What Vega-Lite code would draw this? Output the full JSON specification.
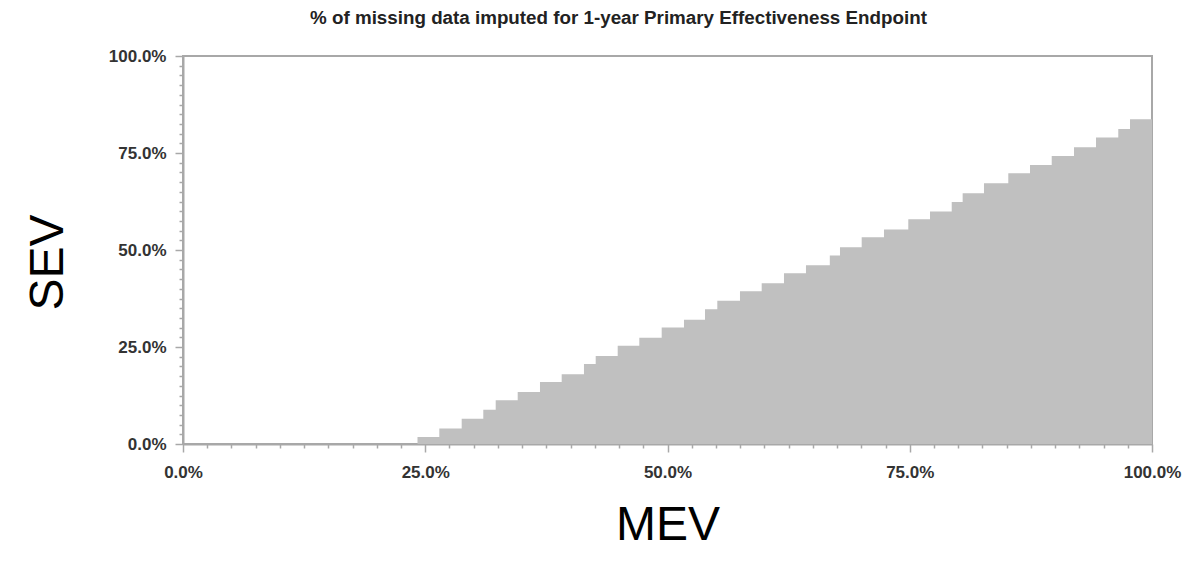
{
  "$schema": "https://vega.github.io/schema/vega-lite/v6.json",
  "width": 969,
  "height": 388,
  "autosize": {"type": "none"},
  "padding": {"left": 183, "top": 56, "right": 36, "bottom": 118},
  "background": "white",
  "title": {
    "text": "% of missing data imputed for 1-year Primary Effectiveness Endpoint",
    "font": "Liberation Sans",
    "fontSize": 18.8,
    "fontWeight": "bold",
    "color": "#222222",
    "anchor": "middle",
    "dx": -49,
    "offset": 19
  },
  "config": {
    "view": {"stroke": "#a8a8a8", "strokeWidth": 2},
    "axis": {
      "domainColor": "#a8a8a8",
      "domainWidth": 2,
      "tickColor": "#a8a8a8",
      "tickWidth": 1.5,
      "grid": false,
      "labelFont": "Liberation Sans",
      "labelFontSize": 17,
      "labelFontWeight": "bold",
      "labelColor": "#333333",
      "labelOverlap": false,
      "labelBound": false,
      "labelFlush": false
    }
  },
  "data": {
    "values": [
      {"MEV": 0, "SEV": 0},
      {"MEV": 24.2, "SEV": 1.8},
      {"MEV": 26.45, "SEV": 4.0},
      {"MEV": 28.76, "SEV": 6.5},
      {"MEV": 30.99, "SEV": 8.8},
      {"MEV": 32.27, "SEV": 11.3},
      {"MEV": 34.54, "SEV": 13.4},
      {"MEV": 36.84, "SEV": 16.0},
      {"MEV": 39.08, "SEV": 18.0},
      {"MEV": 41.38, "SEV": 20.6},
      {"MEV": 42.59, "SEV": 22.7},
      {"MEV": 44.86, "SEV": 25.3},
      {"MEV": 47.09, "SEV": 27.4},
      {"MEV": 49.4, "SEV": 30.0},
      {"MEV": 51.7, "SEV": 32.0},
      {"MEV": 53.87, "SEV": 34.7},
      {"MEV": 55.14, "SEV": 36.9},
      {"MEV": 57.48, "SEV": 39.4},
      {"MEV": 59.72, "SEV": 41.4},
      {"MEV": 62.02, "SEV": 44.0},
      {"MEV": 64.29, "SEV": 46.1},
      {"MEV": 66.75, "SEV": 48.6},
      {"MEV": 67.8, "SEV": 50.7},
      {"MEV": 70.04, "SEV": 53.3},
      {"MEV": 72.34, "SEV": 55.3},
      {"MEV": 74.85, "SEV": 57.9},
      {"MEV": 77.09, "SEV": 59.9},
      {"MEV": 79.33, "SEV": 62.4},
      {"MEV": 80.46, "SEV": 64.6},
      {"MEV": 82.66, "SEV": 67.2},
      {"MEV": 85.17, "SEV": 69.8},
      {"MEV": 87.41, "SEV": 71.9},
      {"MEV": 89.65, "SEV": 74.2},
      {"MEV": 91.95, "SEV": 76.5},
      {"MEV": 94.22, "SEV": 79.0},
      {"MEV": 96.52, "SEV": 81.2},
      {"MEV": 97.73, "SEV": 83.7},
      {"MEV": 100, "SEV": 83.7}
    ]
  },
  "mark": {"type": "area", "interpolate": "step-after", "color": "#c0c0c0"},
  "encoding": {
    "x": {
      "field": "MEV",
      "type": "quantitative",
      "scale": {"domain": [0, 100], "nice": false, "zero": false},
      "axis": {
        "title": "MEV",
        "titleFont": "Liberation Sans",
        "titleFontSize": 48,
        "titleFontWeight": "normal",
        "titleColor": "#000000",
        "titlePadding": 21,
        "values": [0, 2.5, 5, 7.5, 10, 12.5, 15, 17.5, 20, 22.5, 25, 27.5, 30, 32.5, 35, 37.5, 40, 42.5, 45, 47.5, 50, 52.5, 55, 57.5, 60, 62.5, 65, 67.5, 70, 72.5, 75, 77.5, 80, 82.5, 85, 87.5, 90, 92.5, 95, 97.5, 100],
        "labelExpr": "datum.value % 25 === 0 ? format(datum.value, '.1f') + '%' : ''",
        "tickSize": {"condition": {"test": "datum.value % 25 === 0", "value": 8}, "value": 4},
        "labelPadding": 12
      }
    },
    "y": {
      "field": "SEV",
      "type": "quantitative",
      "scale": {"domain": [0, 100], "nice": false, "zero": false},
      "axis": {
        "title": "SEV",
        "titleFont": "Liberation Sans",
        "titleFontSize": 48,
        "titleFontWeight": "normal",
        "titleColor": "#000000",
        "titlePadding": 36,
        "titleY": 206,
        "values": [0, 2.5, 5, 7.5, 10, 12.5, 15, 17.5, 20, 22.5, 25, 27.5, 30, 32.5, 35, 37.5, 40, 42.5, 45, 47.5, 50, 52.5, 55, 57.5, 60, 62.5, 65, 67.5, 70, 72.5, 75, 77.5, 80, 82.5, 85, 87.5, 90, 92.5, 95, 97.5, 100],
        "labelExpr": "datum.value % 25 === 0 ? format(datum.value, '.1f') + '%' : ''",
        "tickSize": {"condition": {"test": "datum.value % 25 === 0", "value": 8}, "value": 4},
        "labelPadding": 9
      }
    }
  }
}
